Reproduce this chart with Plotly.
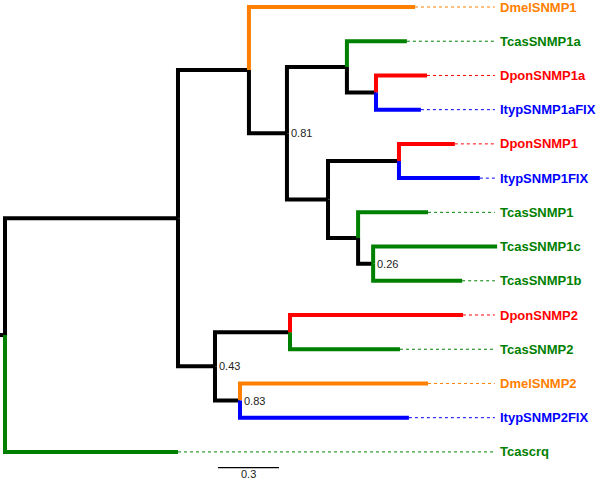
import plotly.graph_objects as go

# tree: each edge is child <- parent with its branch length
edge_child = ["A", "Tcascrq",
              "B", "J",
              "DmelSNMP1", "C",
              "D", "F",
              "TcasSNMP1a", "E",
              "DponSNMP1a", "ItypSNMP1aFIX",
              "G", "H",
              "DponSNMP1", "ItypSNMP1FIX",
              "TcasSNMP1", "I",
              "TcasSNMP1c", "TcasSNMP1b",
              "K", "L",
              "DponSNMP2", "TcasSNMP2",
              "DmelSNMP2", "ItypSNMP2FIX"]
edge_parent = ["root", "root",
               "A", "A",
               "B", "B",
               "C", "C",
               "D", "D",
               "E", "E",
               "F", "F",
               "G", "G",
               "H", "H",
               "I", "I",
               "J", "J",
               "K", "K",
               "L", "L"]
edge_len = [0.851, 0.851,
            0.349, 0.182,
            0.817, 0.187,
            0.295, 0.202,
            0.295, 0.143,
            0.251, 0.221,
            0.349, 0.148,
            0.275, 0.398,
            0.344, 0.074,
            0.610, 0.438,
            0.369, 0.123,
            0.851, 0.541,
            0.925, 0.831]
root_len = 0.025

support_node = ["C", "I", "J", "L"]
support_val = ["0.81", "0.26", "0.43", "0.83"]
scale_len = 0.3

species_color = {"Dmel": "#FF8000", "Tcas": "#008000", "Dpon": "#FF0000", "Ityp": "#0000FF"}

# layout of tree
children = {}
length = {}
for c, p, l in zip(edge_child, edge_parent, edge_len):
    children.setdefault(p, []).append(c)
    length[c] = l

xpos, ypos, tips = {"root": 0.0}, {}, []

def place(n):
    for c in children.get(n, []):
        xpos[c] = xpos[n] + length[c]
        place(c)
    if n in children:
        ys = [ypos[c] for c in children[n]]
        ypos[n] = (ys[0] + ys[-1]) / 2
    else:
        ypos[n] = len(tips)
        tips.append(n)

place("root")

def color_of(n):
    if n in children:
        return "black"
    return species_color[n[:4]]

fig = go.Figure()

# branches grouped by colour
segs = {}
for c, p in zip(edge_child, edge_parent):
    col = color_of(c)
    xs, ys = segs.setdefault(col, ([], []))
    xs += [xpos[p], xpos[p], xpos[c], None]
    ys += [ypos[p], ypos[c], ypos[c], None]
segs["black"][0].extend([-root_len, 0, None])
segs["black"][1].extend([ypos["root"], ypos["root"], None])

DOT_END = 2.41
LABEL_X = 2.425

for t in tips:
    if xpos[t] < DOT_END:
        fig.add_trace(go.Scatter(x=[xpos[t], DOT_END], y=[ypos[t], ypos[t]], mode="lines",
                                 line=dict(color=color_of(t), width=1, dash="dot"),
                                 hoverinfo="skip"))

for col in ["black", "#FF8000", "#008000", "#FF0000", "#0000FF"]:
    xs, ys = segs[col]
    fig.add_trace(go.Scatter(x=xs, y=ys, mode="lines",
                             line=dict(color=col, width=4), hoverinfo="skip"))

for t in tips:
    fig.add_annotation(x=LABEL_X, y=ypos[t], text=t, showarrow=False, xanchor="left",
                       yanchor="middle",
                       font=dict(family="Liberation Sans", size=13, color=color_of(t),
                                 weight="bold"))

for n, v in zip(support_node, support_val):
    fig.add_annotation(x=xpos[n], y=ypos[n], text=v, showarrow=False, xanchor="left",
                       yanchor="middle", xshift=2,
                       font=dict(family="Liberation Sans", size=11, color="#222222"))

# scale bar
sb_x0, sb_y = 1.048, 13.46
fig.add_trace(go.Scatter(x=[sb_x0, sb_x0 + scale_len], y=[sb_y, sb_y], mode="lines",
                         line=dict(color="black", width=1.3), hoverinfo="skip"))
fig.add_annotation(x=sb_x0 + scale_len / 2, y=13.64, text=str(scale_len), showarrow=False,
                   borderpad=0,
                   font=dict(family="Liberation Sans", size=11, color="#222222"))

fig.update_layout(width=600, height=481, margin=dict(l=0, r=0, t=0, b=0),
                  plot_bgcolor="white", paper_bgcolor="white", showlegend=False)
fig.update_xaxes(range=[-0.0246, 2.927], visible=False)
fig.update_yaxes(range=[13.85, -0.2045], visible=False)

# page body has a default 8px margin; drop it so the chart sits at the corner
fig.write_html("out.html", config={"displayModeBar": False},
               post_script="document.body.style.margin='0px';")
